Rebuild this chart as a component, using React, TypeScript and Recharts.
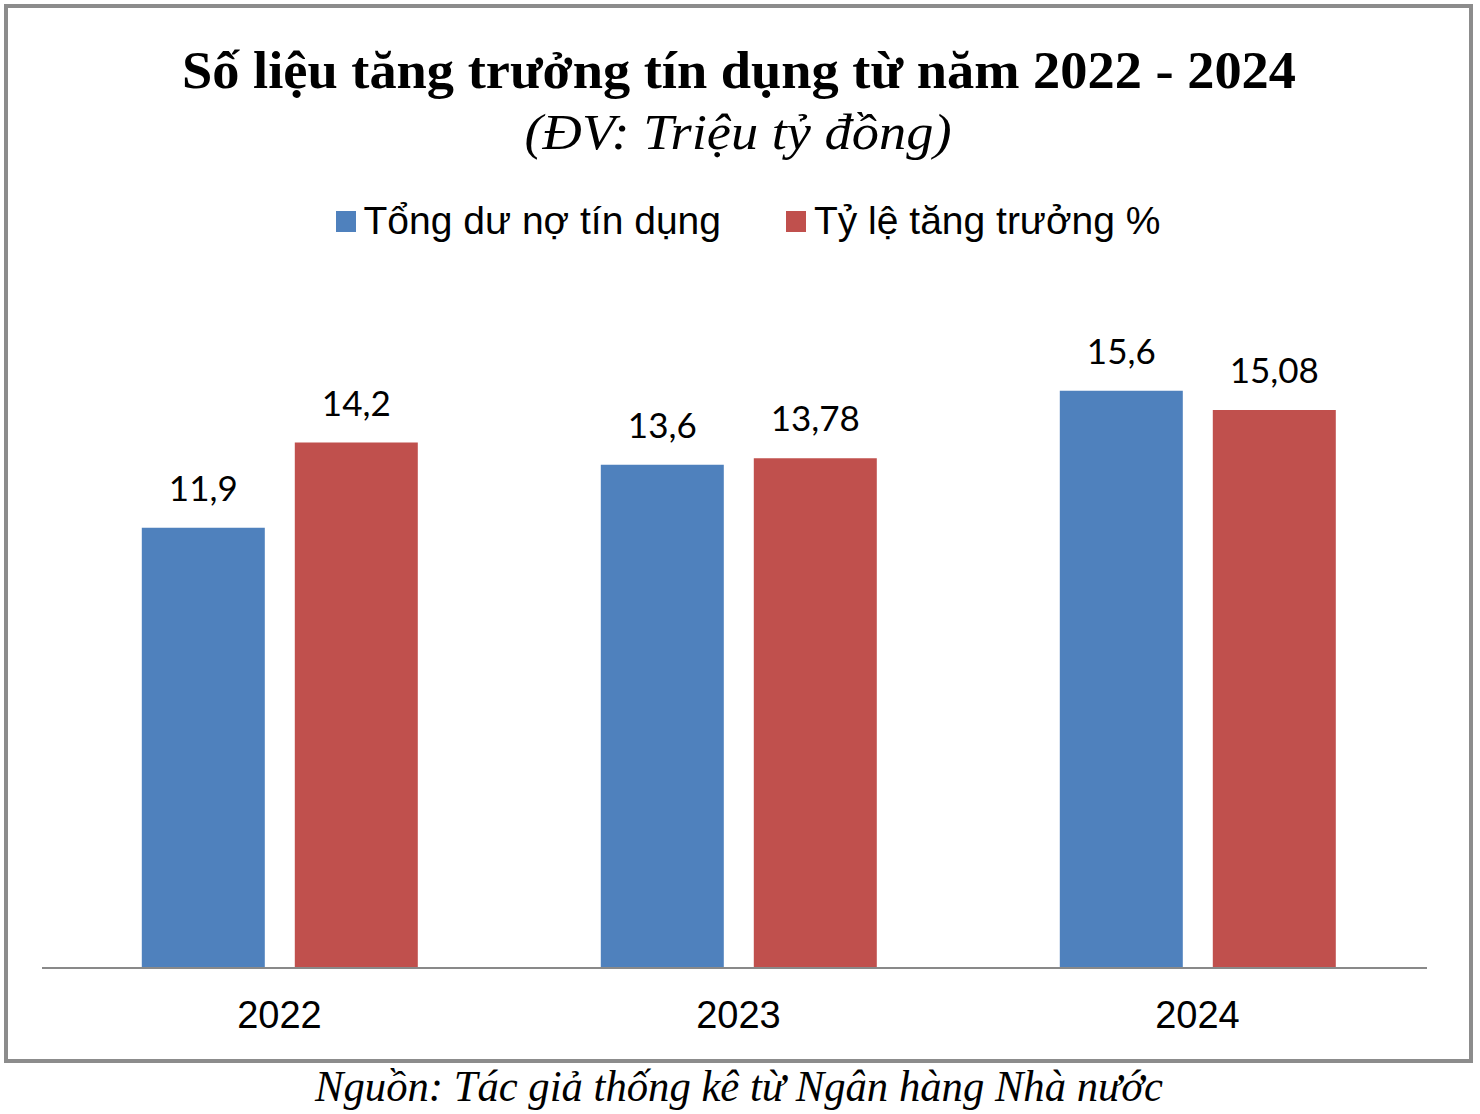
import { BarChart, Bar, XAxis, YAxis, LabelList } from 'recharts'

const years = ['2022', '2023', '2024']
const tongDuNo = [11.9, 13.6, 15.6]
const tyLeTang = [14.2, 13.78, 15.08]
const seriesNames = ['Tổng dư nợ tín dụng', 'Tỷ lệ tăng trưởng %']
const seriesColors = ['#4F81BD', '#C0504D']

const title = 'Số liệu tăng trưởng tín dụng từ năm 2022 - 2024'
const subtitle = '(ĐV: Triệu tỷ đồng)'
const source = 'Nguồn: Tác giả thống kê từ Ngân hàng Nhà nước'

const data = years.map((y, i) => ({ year: y, a: tongDuNo[i], b: tyLeTang[i] }))

const fmt = (v: any) => String(v).replace('.', ',')

const labelStyle = { fontFamily: 'Lato, sans-serif', fontSize: 35, fill: '#000' }

function LegendBox() {
  return (
    <div
      style={{
        position: 'absolute',
        top: 199,
        left: 8,
        width: 1480,
        display: 'flex',
        justifyContent: 'center',
        gap: 65,
        fontFamily: 'Liberation Sans, Arial, sans-serif',
        fontSize: 39,
        color: '#000',
      }}
    >
      {seriesNames.map((n, i) => (
        <div key={n} style={{ display: 'flex', alignItems: 'center' }}>
          <span style={{ width: 20, height: 21, background: seriesColors[i], display: 'inline-block', marginRight: 8 }} />
          <span>{n}</span>
        </div>
      ))}
    </div>
  )
}

export default function App() {
  return (
    <div style={{ position: 'absolute', left: 0, top: 0, width: 1480, height: 1114, background: '#fff' }}>
      <div style={{ position: 'absolute', left: 4, top: 4, width: 1469, height: 1059, border: '4px solid #8c8c8c', boxSizing: 'border-box' }} />
      <BarChart
        width={1480}
        height={1114}
        data={data}
        margin={{ top: 302, right: 53, bottom: 116, left: 42 }}
        barCategoryGap="20%"
        barGap={30}
      >
        <XAxis
          dataKey="year"
          padding={{ left: 8, right: 0 }}
          axisLine={{ stroke: '#898989', strokeWidth: 2 }}
          tickLine={false}
          tickSize={0}
          tickMargin={33}
          tick={{ fontFamily: 'Liberation Sans, Arial, sans-serif', fontSize: 38, fill: '#000' }}
        />
        <YAxis hide domain={[0, 18]} />
        <Bar dataKey="a" name={seriesNames[0]} fill={seriesColors[0]} isAnimationActive={false}>
          <LabelList dataKey="a" position="top" offset={27} formatter={fmt} style={labelStyle} />
        </Bar>
        <Bar dataKey="b" name={seriesNames[1]} fill={seriesColors[1]} isAnimationActive={false}>
          <LabelList dataKey="b" position="top" offset={27} formatter={fmt} style={labelStyle} />
        </Bar>
      </BarChart>
      <LegendBox />
      <svg width={1480} height={1114} style={{ position: 'absolute', left: 0, top: 0, pointerEvents: 'none' }}>
        <text x={739} y={88} textAnchor="middle" fontFamily="Liberation Serif, Times New Roman, serif" fontWeight="bold" fontSize={52} textLength={1114} lengthAdjust="spacingAndGlyphs">
          {title}
        </text>
        <text x={738} y={149} textAnchor="middle" fontFamily="Liberation Serif, Times New Roman, serif" fontStyle="italic" fontSize={50} textLength={427} lengthAdjust="spacingAndGlyphs">
          {subtitle}
        </text>
        <text x={739} y={1101} textAnchor="middle" fontFamily="Liberation Serif, Times New Roman, serif" fontStyle="italic" fontSize={44} textLength={848} lengthAdjust="spacingAndGlyphs">
          {source}
        </text>
      </svg>
    </div>
  )
}
